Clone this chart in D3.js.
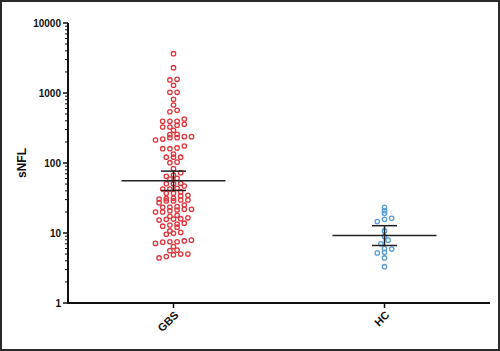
<!DOCTYPE html>
<html>
<head>
<meta charset="utf-8">
<style>
  body { margin: 0; background: #fff; }
  svg text { font-family: "Liberation Sans", Arial, sans-serif; font-weight: bold; fill: #111; }
</style>
</head>
<body>
<svg id="chart" width="500" height="351"></svg>
<script src="https://cdn.jsdelivr.net/npm/d3@7"></script>
<script>
const groups = ["GBS", "HC"];
const colors = { GBS: "#e0363d", HC: "#5b9bd8" };
const yTicks = [1, 10, 100, 1000, 10000];

// sNFL values
const gbs = [
  3640, 2300, 1570, 1535, 1290, 1023, 1023, 813, 674, 566, 540,
  425, 394, 394, 394, 357, 346, 327, 327, 293,
  257, 254, 238, 238, 230, 230, 220, 213,
  175, 164, 160, 160, 134, 121, 121, 121, 103, 101, 83,
  72.7, 67.4, 64.6, 60.4, 59.1, 51.3, 50.6, 50.6, 46.9, 43.5, 42.5, 42.5,
  38.9, 36.9, 36.9, 34.6, 33.8, 31.3, 30.9, 30.6, 29.6, 29.6, 28.7, 28.7, 27.1,
  25.1, 23.8, 23.5, 23.3, 21.8, 21.8, 21.3, 20.8, 19.95, 19.95, 17.9, 17.3,
  16.5, 16.0, 15.8, 15.7, 15.3, 13.8, 13.4, 13.0, 12.5, 12.1, 10.7, 10.2, 9.9, 9.6,
  7.9, 7.7, 7.5, 7.5, 7.4, 7.1, 6.4, 5.7, 5.6, 5.0, 5.0, 4.9, 4.6, 4.4
];
const hc = [23.3, 20.8, 19.1, 16.2, 15.7, 14.6, 10.7, 8.9, 7.9, 7.0, 6.0, 5.9, 5.3, 5.2, 4.4, 3.3];
const series = { GBS: gbs, HC: hc };

const svg = d3.select("#chart");
const W = 500, H = 351;

svg.append("rect")
  .attr("x", 1).attr("y", 1).attr("width", W - 2).attr("height", H - 2)
  .attr("fill", "#fff").attr("stroke", "#2a2a2a").attr("stroke-width", 2);

const x = d3.scalePoint().domain(groups).range([68, 490]).padding(0.5);
const y = d3.scaleLog().domain([1, 10000]).range([303, 23]);

// y axis with minor ticks
const minor = [];
for (let d = 1; d < 10000; d *= 10) {
  for (let k = 2; k <= 9; k++) minor.push(d * k);
}
const yAxis = svg.append("g").attr("transform", "translate(68,0)");
yAxis.append("line").attr("y1", y(1)).attr("y2", y(10000))
  .attr("stroke", "#111").attr("stroke-width", 2);
yAxis.selectAll(".minor").data(minor).enter().append("line")
  .attr("x1", -3).attr("x2", 0)
  .attr("y1", d => y(d)).attr("y2", d => y(d))
  .attr("stroke", "#111").attr("stroke-width", 1);
yAxis.selectAll(".major").data(yTicks).enter().append("line")
  .attr("x1", -5).attr("x2", 0)
  .attr("y1", d => y(d)).attr("y2", d => y(d))
  .attr("stroke", "#111").attr("stroke-width", 1.5);
yAxis.selectAll("text").data(yTicks).enter().append("text")
  .attr("x", -7).attr("y", d => y(d)).attr("dy", "0.35em")
  .attr("text-anchor", "end").attr("font-size", 10)
  .text(d => d);

svg.append("text")
  .attr("transform", "translate(26,163) rotate(-90)")
  .attr("text-anchor", "middle").attr("font-size", 12)
  .text("sNFL");

// x axis
const xAxis = svg.append("g");
xAxis.append("line").attr("x1", 67).attr("x2", 490).attr("y1", 303).attr("y2", 303)
  .attr("stroke", "#111").attr("stroke-width", 2);
xAxis.selectAll(".tick").data(groups).enter().append("line")
  .attr("x1", d => x(d)).attr("x2", d => x(d)).attr("y1", 303).attr("y2", 308)
  .attr("stroke", "#111").attr("stroke-width", 1.5);
xAxis.selectAll("text").data(groups).enter().append("text")
  .attr("transform", d => `translate(${x(d) + 3},${313}) rotate(-45)`)
  .attr("text-anchor", "end").attr("dy", "0.35em").attr("font-size", 11)
  .text(d => d);

// GraphPad-like scatter: bin by pixel rows, centre each row
const binH = 4.5, colW = 7.2;
groups.forEach(g => {
  const pts = series[g].map(v => ({ v, py: y(v) }));
  const bins = d3.groups(pts, p => Math.floor((303 - p.py) / binH));
  bins.forEach(([, arr]) => {
    arr.sort((a, b) => a.v - b.v);
    arr.forEach((p, i) => { p.px = x(g) + (i - (arr.length - 1) / 2) * colW; });
  });
  svg.append("g").selectAll("circle").data(pts).enter().append("circle")
    .attr("cx", d => d.px).attr("cy", d => d.py).attr("r", 2.2)
    .attr("fill", "none").attr("stroke", colors[g]).attr("stroke-width", 1.3);

  // geometric mean with 95% CI
  const logs = series[g].map(Math.log10);
  const n = logs.length;
  const m = d3.mean(logs);
  const se = d3.deviation(logs) / Math.sqrt(n);
  const t = n > 30 ? 1.983 : 2.131;
  const lo = Math.pow(10, m - t * se), hi = Math.pow(10, m + t * se), gm = Math.pow(10, m);
  const cx = x(g);
  const sg = svg.append("g").attr("stroke", "#222").attr("stroke-width", 1.5);
  sg.append("line").attr("x1", cx - 52).attr("x2", cx + 52).attr("y1", y(gm)).attr("y2", y(gm));
  sg.append("line").attr("x1", cx).attr("x2", cx).attr("y1", y(lo)).attr("y2", y(hi));
  sg.append("line").attr("x1", cx - 12.5).attr("x2", cx + 12.5).attr("y1", y(lo)).attr("y2", y(lo));
  sg.append("line").attr("x1", cx - 12.5).attr("x2", cx + 12.5).attr("y1", y(hi)).attr("y2", y(hi));
});
</script>
</body>
</html>
